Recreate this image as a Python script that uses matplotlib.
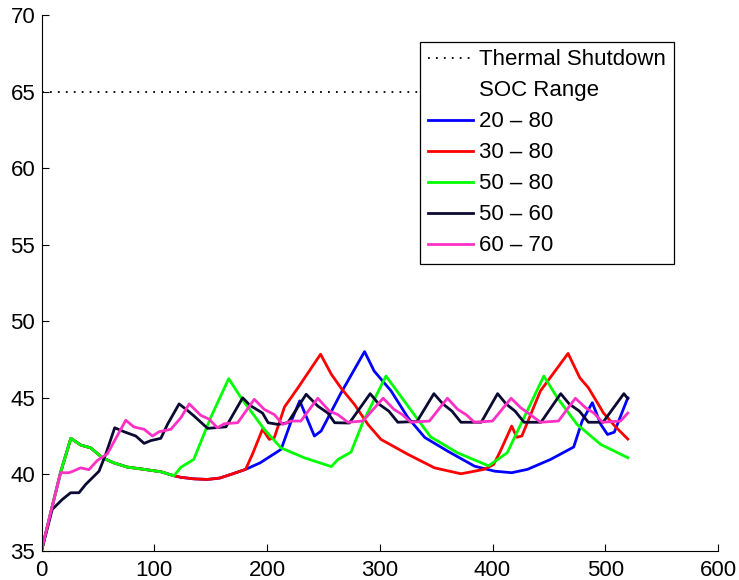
import matplotlib.pyplot as plt
from matplotlib.lines import Line2D

plt.rcParams['font.family'] = ['Liberation Sans', 'DejaVu Sans']

#-----------------------------------#
shutdown_x = [0, 520]
shutdown_y = [65, 65]

# SOC range 20 - 80
blue_x = [0, 8.5, 17, 26, 35, 43.5, 54, 64, 76, 91, 106, 117.5, 123.5, 135, 147, 158, 168, 181,
          194, 212.5, 221.5, 229, 242, 248, 265.5, 286.5, 295, 310, 325, 340, 360.5, 384, 402,
          417, 431, 451.5, 472, 479.5, 488.5, 496, 502, 508, 520]
blue_y = [35, 37.6, 40.15, 42.35, 41.9, 41.73, 41.08, 40.75, 40.47, 40.32, 40.16, 39.9, 39.8,
          39.7, 39.66, 39.75, 39.99, 40.32, 40.75, 41.63, 43.48, 44.8, 42.5, 42.83, 45.3, 48.02,
          46.75, 45.45, 43.7, 42.4, 41.5, 40.53, 40.2, 40.1, 40.32, 40.97, 41.78, 43.48, 44.68,
          43.26, 42.6, 42.75, 45.0]

# SOC range 30 - 80
red_x = [0, 8.5, 17, 26, 35, 43.5, 54, 64, 76, 91, 106, 117.5, 123.5, 135, 147, 158, 168, 181,
         187, 196, 202, 206.5, 215.5, 227.5, 247.5, 257, 266, 277.5, 289.5, 301, 325, 348.5, 372,
         392.5, 401, 407, 417, 421.5, 426, 442.5, 467, 477.5, 485, 498.5, 508.5, 520]
red_y = [35, 37.6, 40.15, 42.35, 41.9, 41.73, 41.08, 40.75, 40.47, 40.32, 40.16, 39.9, 39.8,
         39.7, 39.66, 39.75, 39.99, 40.32, 41.3, 42.94, 42.28, 42.4, 44.4, 45.66, 47.85, 46.54,
         45.6, 44.57, 43.26, 42.28, 41.3, 40.42, 40.03, 40.32, 40.64, 41.52, 43.15, 42.42, 42.5,
         45.45, 47.9, 46.3, 45.66, 44.0, 43.15, 42.3]

# SOC range 50 - 80
green_x = [0, 8.5, 17, 26, 35, 43.5, 54, 64, 76, 91, 106, 117.5, 123.5, 135, 150, 166, 177,
           197.5, 212.5, 233, 257, 263, 274.5, 285, 305.5, 345, 369, 396.5, 413, 445.5, 457.5,
           475, 496, 520]
green_y = [35, 37.6, 40.15, 42.35, 41.9, 41.73, 41.08, 40.75, 40.47, 40.32, 40.16, 39.9, 40.45,
           40.97, 43.7, 46.25, 45.0, 42.94, 41.72, 41.08, 40.5, 40.97, 41.45, 43.4, 46.42, 42.45,
           41.4, 40.55, 41.4, 46.42, 45.0, 43.26, 41.95, 41.08]

# SOC range 50 - 60
navy_x = [0, 9.5, 18.4, 25.8, 33.2, 39.1, 51, 56.9, 64.9, 73.2, 83.6, 91, 96.9, 105.8, 111.7,
          122, 129, 135.4, 147.3, 163.6, 178.4, 185, 196, 201, 209.5, 218.4, 234.7, 245, 254,
          260, 273, 291.5, 299, 308, 316, 333, 348, 356, 364, 372, 390, 404.5, 412, 420, 428,
          443, 460.5, 468, 477, 485, 498, 516.5, 520]
navy_y = [35, 37.7, 38.35, 38.79, 38.79, 39.33, 40.2, 41.3, 43.04, 42.78, 42.5, 42.02, 42.2,
          42.35, 43.26, 44.6, 44.2, 43.8, 43.0, 43.1, 45.0, 44.5, 44.0, 43.37, 43.26, 43.37,
          45.23, 44.46, 44.0, 43.37, 43.35, 45.27, 44.6, 44.13, 43.4, 43.45, 45.27, 44.6, 44.13,
          43.4, 43.4, 45.27, 44.6, 44.13, 43.4, 43.4, 45.27, 44.6, 44.13, 43.4, 43.4, 45.27, 44.95]

# SOC range 60 - 70
pink_x = [0, 8.5, 16.9, 24.3, 28, 34.7, 42, 49.5, 58.4, 74.7, 82, 91, 98.4, 104.3, 114.7,
          123.6, 131, 141.3, 148.7, 156, 162, 174, 188.7, 197.6, 206.5, 214, 221.3, 230, 245,
          255.4, 262.8, 271.7, 285, 303, 312.5, 320, 327.5, 344, 360, 369, 376.5, 384, 400,
          416.5, 425, 433.5, 442.5, 458.5, 473.5, 482.5, 490, 497.5, 513.5, 520]
pink_y = [35, 37.6, 40.1, 40.1, 40.2, 40.42, 40.3, 40.9, 41.34, 43.53, 43.09, 42.94, 42.5,
          42.78, 42.94, 43.7, 44.6, 43.85, 43.6, 43.04, 43.3, 43.37, 44.9, 44.24, 43.9, 43.26,
          43.48, 43.48, 44.97, 44.13, 43.9, 43.4, 43.48, 44.97, 44.25, 43.9, 43.4, 43.48, 44.97,
          44.25, 43.9, 43.4, 43.48, 44.97, 44.35, 43.9, 43.4, 43.48, 44.97, 44.35, 44.0, 43.4,
          43.48, 44.0]

labels = ['20 \u2013 80', '30 \u2013 80', '50 \u2013 80', '50 \u2013 60', '60 \u2013 70']
x_ticks = [0, 100, 200, 300, 400, 500, 600]
y_ticks = [35, 40, 45, 50, 55, 60, 65, 70]
#-----------------------------------#

fig = plt.figure(figsize=(7.39, 5.8), dpi=100)
ax = fig.add_axes([0.0562, 0.0505, 0.9154, 0.9228])

shut, = ax.plot(shutdown_x, shutdown_y, color='black', linestyle=(0, (1, 3.4)), linewidth=1.3)
lw = 2.0
l1, = ax.plot(blue_x, blue_y, color='#0000ff', linewidth=lw)
l2, = ax.plot(red_x, red_y, color='#ff0000', linewidth=lw)
l3, = ax.plot(green_x, green_y, color='#00ff00', linewidth=lw)
l4, = ax.plot(navy_x, navy_y, color='#0a0a33', linewidth=lw)
l5, = ax.plot(pink_x, pink_y, color='#ff30c4', linewidth=lw)

blank = Line2D([], [], color='none')

ax.set_xlim(0, 600)
ax.set_ylim(35, 70)
ax.set_xticks(x_ticks)
ax.set_yticks(y_ticks)
ax.spines['top'].set_visible(False)
ax.spines['right'].set_visible(False)
ax.tick_params(direction='in', length=5, width=0.8, labelsize=16)
ax.tick_params(axis='x', pad=7)
ax.tick_params(axis='y', pad=4.5)

leg = ax.legend([shut, blank, l1, l2, l3, l4, l5],
                ['Thermal Shutdown', 'SOC Range'] + labels,
                loc='upper right', bbox_to_anchor=(0.935, 0.951), borderaxespad=0,
                fontsize=16, fancybox=False, framealpha=1, edgecolor='black',
                handlelength=2.03, handletextpad=0.27, labelspacing=0.45, borderpad=0.35)
leg.get_frame().set_linewidth(0.9)

fig.savefig('out.png', dpi=100)
